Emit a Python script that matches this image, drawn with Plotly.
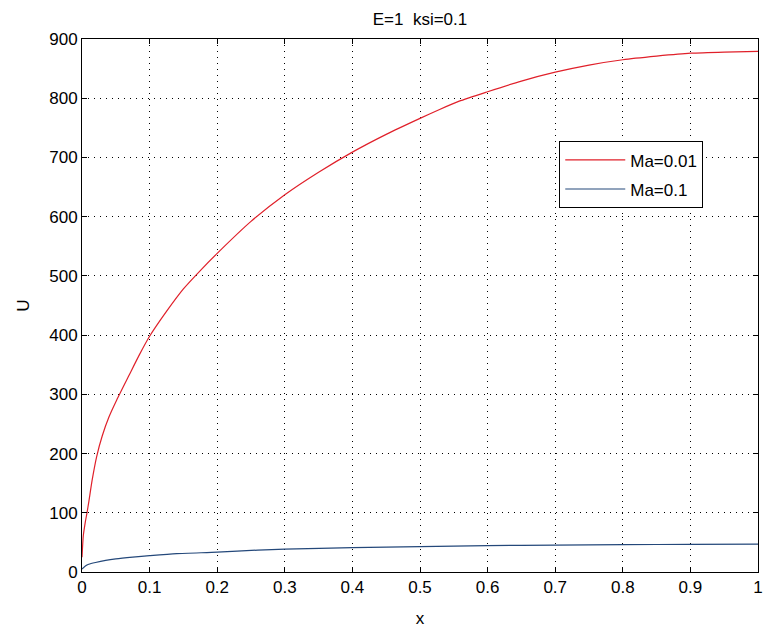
import plotly.graph_objects as go

# Ma = 0.01 (red)
x_red = [0, 0.002, 0.005, 0.0074, 0.01, 0.015, 0.0217, 0.03, 0.04, 0.0512, 0.07, 0.085,
         0.1, 0.125, 0.15, 0.175, 0.2, 0.25, 0.3, 0.35, 0.4, 0.45, 0.5, 0.529, 0.558, 0.6,
         0.65, 0.7, 0.75, 0.8, 0.85, 0.9, 0.95, 1.0]
u_red = [25, 62, 85, 100, 118, 155, 195, 230, 262, 290, 333, 367,
         398, 440, 478, 509, 538, 592, 637, 675, 709, 739, 766, 781, 795, 811,
         829, 844, 856, 865, 871, 876, 878, 879]

# Ma = 0.1 (blue)
x_blue = [0, 0.005, 0.01, 0.02, 0.035, 0.05, 0.075, 0.1, 0.14, 0.2, 0.26, 0.3, 0.4, 0.5,
          0.6, 0.7, 0.8, 0.9, 1.0]
u_blue = [5, 10, 13, 16, 19.5, 22, 25, 27.5, 31, 33.5, 37, 38.5, 41, 43,
          44.5, 45.5, 46.2, 46.6, 47]

series_names = ["Ma=0.01", "Ma=0.1"]
x_ticks = [0, 0.1, 0.2, 0.3, 0.4, 0.5, 0.6, 0.7, 0.8, 0.9, 1]
x_ticklabels = ["0", "0.1", "0.2", "0.3", "0.4", "0.5", "0.6", "0.7", "0.8", "0.9", "1"]
y_ticks = [0, 100, 200, 300, 400, 500, 600, 700, 800, 900]

FONT = "Liberation Sans, Arial, sans-serif"
FS = 17

fig = go.Figure()
fig.add_trace(go.Scatter(x=x_red, y=u_red, mode="lines", name=series_names[0], legendgroup="g1",
                         line=dict(color="#e0202a", width=1.2, shape="spline", smoothing=0.6)))
fig.add_trace(go.Scatter(x=x_blue, y=u_blue, mode="lines", name=series_names[1], legendgroup="g2",
                         line=dict(color="#24487a", width=1.2, shape="spline", smoothing=0.6)))

axis_common = dict(
    showline=True, linecolor="black", linewidth=1, mirror="ticks",
    ticks="inside", ticklen=5, tickcolor="black", tickwidth=1,
    showgrid=True, gridcolor="black", gridwidth=1, griddash="1px,5px",
    zeroline=False, automargin=False, ticklabeloverflow="allow",
    tickfont=dict(family=FONT, size=FS, color="black"),
)

fig.update_xaxes(range=[0, 1], tickvals=x_ticks, ticktext=x_ticklabels,
                 title=dict(text="x", font=dict(family=FONT, size=FS, color="black"), standoff=15),
                 **axis_common)
fig.update_yaxes(range=[0, 900], tickvals=y_ticks,
                 title=dict(text="U", font=dict(family=FONT, size=FS, color="black"), standoff=15),
                 **axis_common)

fig.update_layout(
    width=763, height=632,
    margin=dict(l=82, r=5, t=38.5, b=60),
    paper_bgcolor="white", plot_bgcolor="white",
    title=dict(text="E=1&nbsp;&nbsp;ksi=0.1", x=0.5, xref="paper", xanchor="center",
               y=1 - 19 / 632, yref="container", yanchor="middle",
               font=dict(family=FONT, size=17, color="black")),
    legend=dict(x=0.706, y=0.808, xanchor="left", yanchor="top",
                bgcolor="white", bordercolor="black", borderwidth=1,
                font=dict(family=FONT, size=FS, color="black"),
                tracegroupgap=4, itemwidth=60),
    showlegend=True,
)

# remove the default 8px page margin so the figure fills the window exactly
post = ("document.body.style.margin='0';document.body.style.padding='0';"
        "document.documentElement.style.overflow='hidden';")
fig.write_html("out.html", post_script=post, config={"displayModeBar": False})
